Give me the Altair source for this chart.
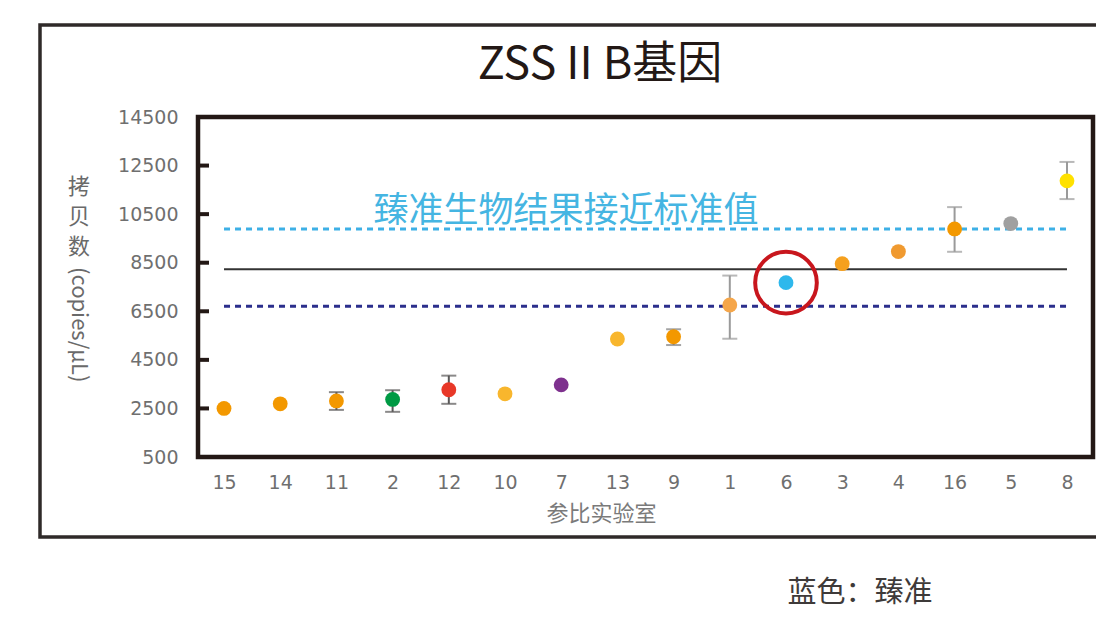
import altair as alt
import pandas as pd

# ---- data ----
labs = ["15", "14", "11", "2", "12", "10", "7", "13", "9", "1", "6", "3", "4", "16", "5", "8"]
values = [2500, 2690, 2810, 2870, 3270, 3100, 3470, 5360, 5450, 6760, 7680, 8460, 8960, 9890, 10110, 11870]
err_lo = [None, None, 2440, 2360, 2690, None, None, None, 5110, 5370, None, None, None, 8950, None, 11120]
err_hi = [None, None, 3170, 3250, 3850, None, None, None, 5760, 7970, None, None, None, 10790, None, 12650]
colors = ["#F39800", "#F39800", "#F39800", "#009A44", "#E83828", "#F8B62D", "#7E318E", "#F8B62D",
          "#F39800", "#F5A64A", "#2EB8EC", "#F5A01E", "#F09A30", "#F39800", "#A0A0A0", "#FFE100"]
err_colors = ["#595757", "#595757", "#595757", "#595757", "#595757", "#595757", "#595757", "#595757",
              "#7d7d7d", "#9a9a9a", "#9a9a9a", "#9a9a9a", "#9a9a9a", "#9a9a9a", "#9a9a9a", "#9a9a9a"]
y_ticks = [500, 2500, 4500, 6500, 8500, 10500, 12500, 14500]
ref_high = 9890
ref_mid = 8230
ref_low = 6710
highlight_lab = "6"

FONT = "Noto Sans CJK SC"
NUMFONT = "DejaVu Sans"

df = pd.DataFrame({"lab": labs, "value": values, "lo": err_lo, "hi": err_hi,
                   "color": colors, "ecolor": err_colors})
err_df = df.dropna(subset=["lo", "hi"])
hl_df = df[df["lab"] == highlight_lab]
tick_df = pd.DataFrame({"t": y_ticks})
one = pd.DataFrame({"k": [0]})

W, H = 895, 340

xenc = alt.X("lab:N", sort=labs,
             scale=alt.Scale(type="point", padding=0.463),
             axis=alt.Axis(title="参比实验室", titleX=403, titleY=56, titleBaseline="middle",
                           titleAlign="center", titleFont=FONT, titleFontSize=22,
                           titleFontWeight="normal", titleColor="#7a7a7a",
                           labelFont=NUMFONT, labelFontSize=19, labelColor="#6f6f6f",
                           labelAlign="center", labelBaseline="top",
                           labelPadding=16, labelAngle=0, domain=False, ticks=False, grid=False))
yscale = alt.Scale(domain=[500, 14500], nice=False, zero=False)
yenc_axis = alt.Axis(values=y_ticks, format="d", title=None, labelFont=NUMFONT, labelFontSize=19,
                     labelColor="#6f6f6f", labelPadding=20, domain=False, ticks=False, grid=False)

base = alt.Chart(df)

# outer frame
frame = alt.Chart(one).mark_rect(fillOpacity=0, stroke="#2f2a29", strokeWidth=3.5).encode(
    x=alt.value(-158), x2=alt.value(1000), y=alt.value(-92), y2=alt.value(420))

# inward y ticks
yticks = alt.Chart(tick_df).mark_rule(color="#231815", strokeWidth=4).encode(
    y=alt.Y("t:Q", scale=yscale, axis=yenc_axis),
    x=alt.value(0), x2=alt.value(11))

# reference lines
line_hi = alt.Chart(one).mark_rule(color="#3DB0E6", strokeWidth=3, strokeDash=[6, 5]).encode(
    x=alt.datum("15"), x2=alt.datum("8"), y=alt.datum(ref_high))
line_mid = alt.Chart(one).mark_rule(color="#333333", strokeWidth=2).encode(
    x=alt.datum("15"), x2=alt.datum("8"), y=alt.datum(ref_mid))
line_lo = alt.Chart(one).mark_rule(color="#2B2E8C", strokeWidth=3, strokeDash=[6, 5]).encode(
    x=alt.datum("15"), x2=alt.datum("8"), y=alt.datum(ref_low))

# error bars
err_rule = alt.Chart(err_df).mark_rule(strokeWidth=2).encode(
    x=xenc, y=alt.Y("lo:Q", scale=yscale), y2="hi:Q",
    color=alt.Color("ecolor:N", scale=None))
cap_lo = alt.Chart(err_df).mark_tick(size=15, thickness=2, orient="horizontal").encode(
    x=xenc, y=alt.Y("lo:Q", scale=yscale), color=alt.Color("ecolor:N", scale=None))
cap_hi = alt.Chart(err_df).mark_tick(size=15, thickness=2, orient="horizontal").encode(
    x=xenc, y=alt.Y("hi:Q", scale=yscale), color=alt.Color("ecolor:N", scale=None))

# points
pts = base.mark_circle(size=220, opacity=1).encode(
    x=xenc, y=alt.Y("value:Q", scale=yscale),
    color=alt.Color("color:N", scale=None))

# highlight circle
ring = alt.Chart(hl_df).mark_point(shape="circle", size=3800, filled=False,
                                    stroke="#C8161D", strokeWidth=4, opacity=1).encode(
    x=xenc, y=alt.Y("value:Q", scale=yscale))

# texts
title = alt.Chart(one).mark_text(text="ZSS II B基因", font=FONT, fontSize=45, color="#231815",
                                 align="center", baseline="middle").encode(
    x=alt.value(402), y=alt.value(-52))
note = alt.Chart(one).mark_text(text="臻准生物结果接近标准值", font=FONT, fontSize=35,
                                color="#45B5E2", align="center", baseline="middle").encode(
    x=alt.value(368), y=alt.value(94))
ytitle_cjk = alt.Chart(one).mark_text(text=["拷", "贝", "数"], font=FONT, fontSize=22,
                                      lineHeight=30, color="#6a6a6a", align="center",
                                      baseline="middle").encode(
    x=alt.value(-119), y=alt.value(70))
ytitle_lat = alt.Chart(one).mark_text(text="(copies/μL)", font=FONT, fontSize=22, angle=90,
                                      color="#6a6a6a", align="left", baseline="middle").encode(
    x=alt.value(-119), y=alt.value(150))
bottom = alt.Chart(one).mark_text(text="蓝色：臻准", font=FONT, fontSize=29, color="#3e3a39",
                                  align="center", baseline="middle").encode(
    x=alt.value(662), y=alt.value(476))

chart = alt.layer(
    frame, yticks, line_hi, line_mid, line_lo, err_rule, cap_lo, cap_hi, pts, ring,
    title, note, ytitle_cjk, ytitle_lat, bottom
).resolve_scale(y="shared").properties(
    width=W, height=H,
    autosize=alt.AutoSizeParams(type="none"),
    padding={"left": 190, "top": 109, "right": 3, "bottom": 152},
    background="white",
).configure_view(stroke="#231815", strokeWidth=4.5)

chart.save("out.html", embed_options={"renderer": "svg", "actions": False})
